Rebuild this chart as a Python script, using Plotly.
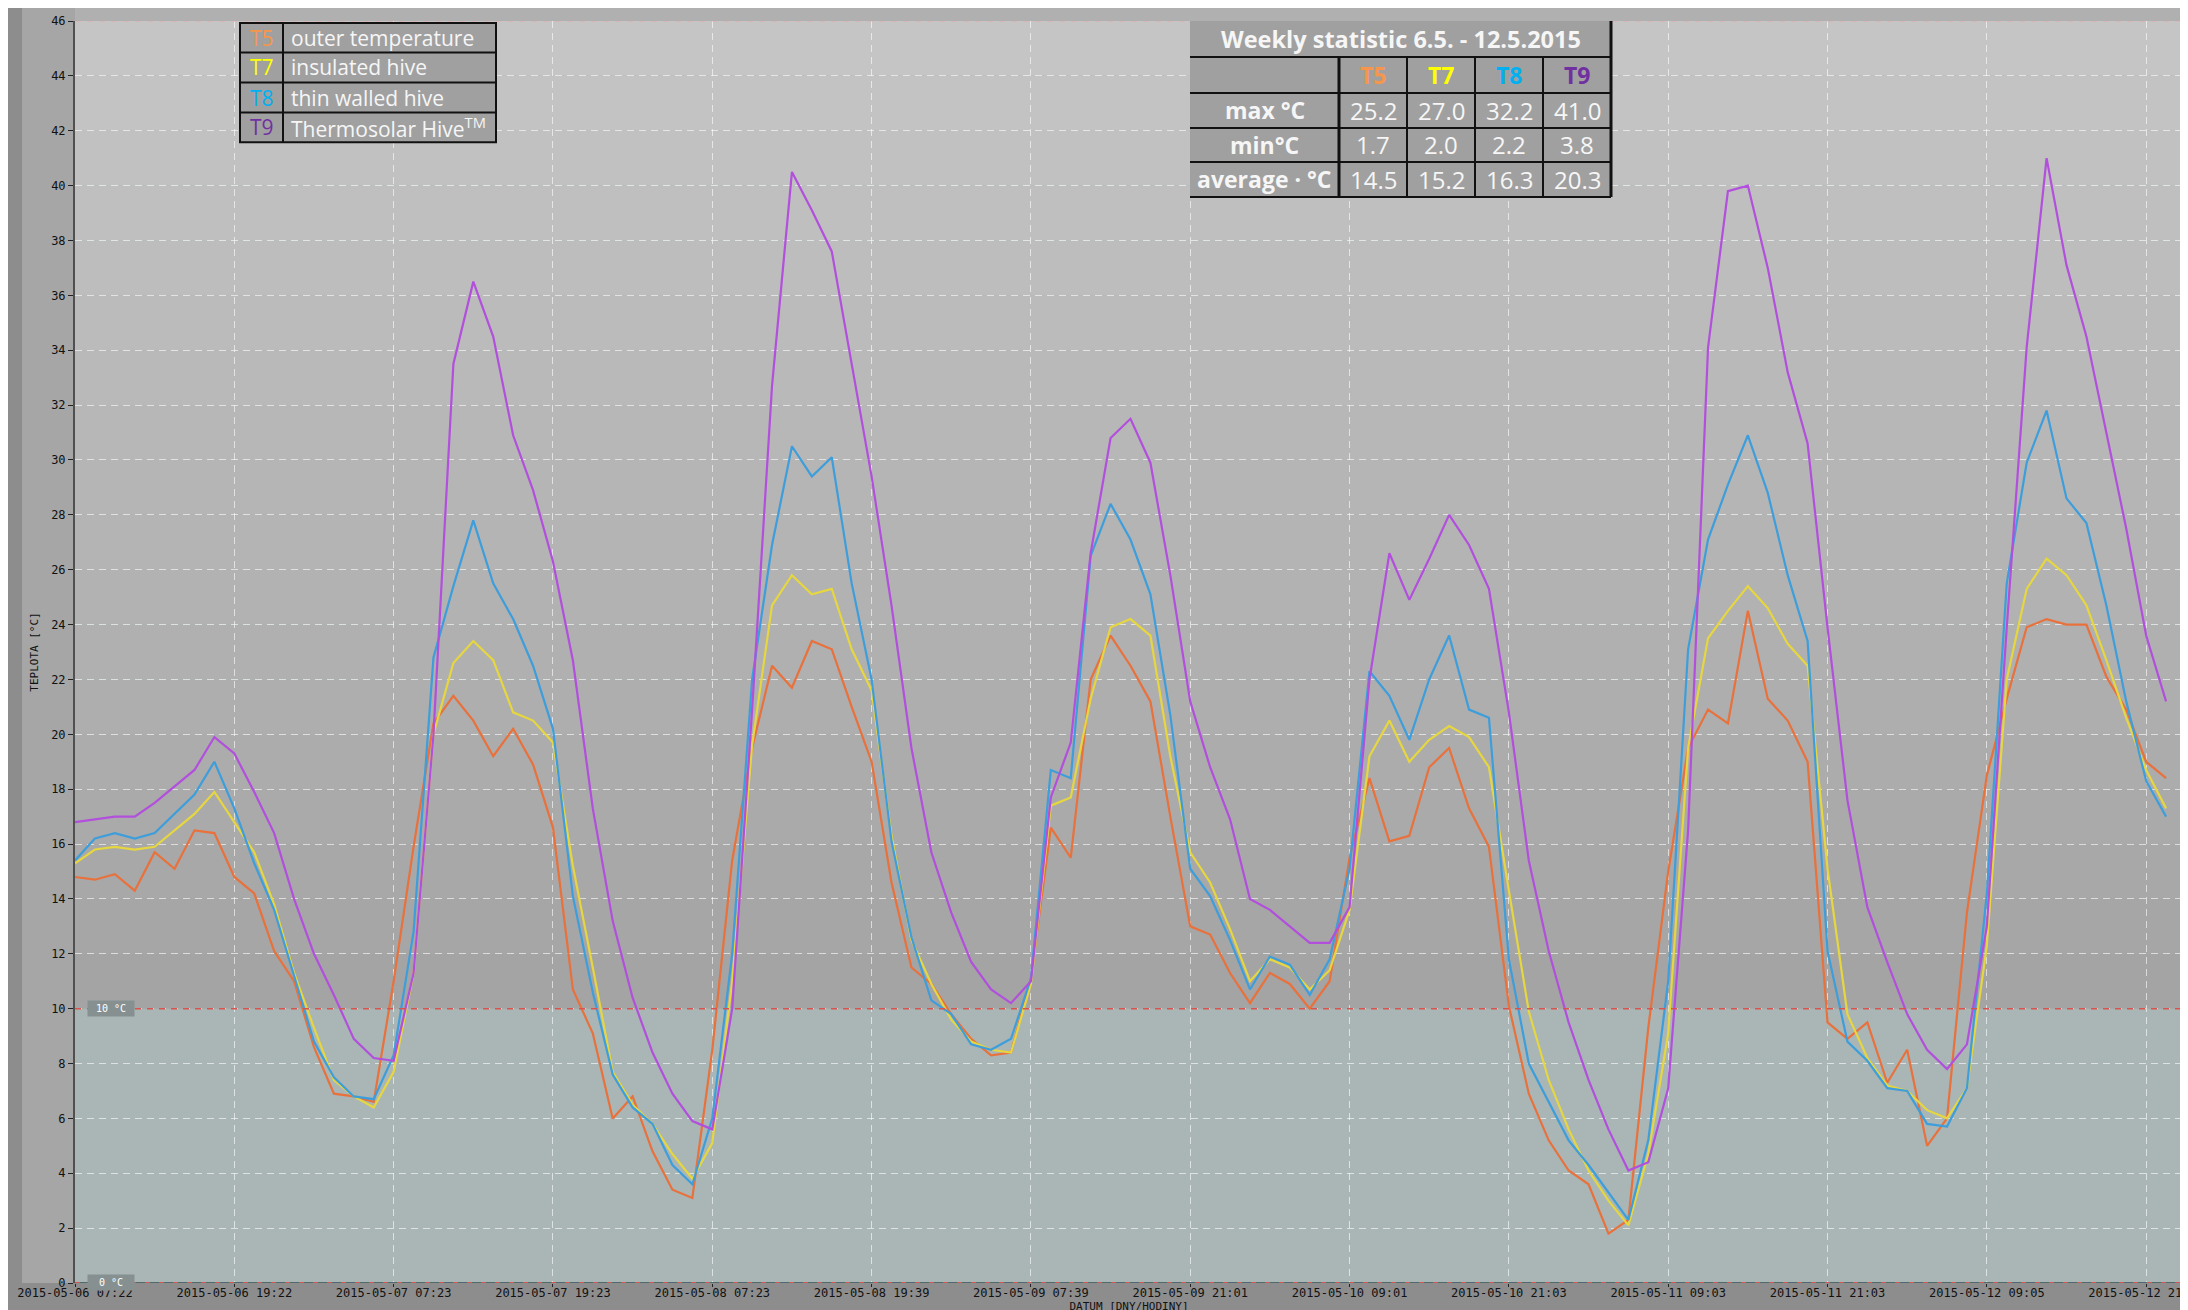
import plotly.graph_objects as go

# ── Data (hive logger, 6.5. - 12.5.2015), one value per sample ────────────────
T5 = [14.8, 14.7, 14.9, 14.3, 15.7, 15.1, 16.5, 16.4, 14.8, 14.2,
      12.1, 11.0, 8.6, 6.9, 6.8, 6.6, 11.0, 15.9, 20.4, 21.4,
      20.5, 19.2, 20.2, 18.9, 16.6, 10.7, 9.1, 6.0, 6.8, 4.8,
      3.4, 3.1, 8.5, 15.4, 19.5, 22.5, 21.7, 23.4, 23.1, 21.0,
      19.0, 14.6, 11.5, 10.9, 9.8, 8.9, 8.3, 8.4, 11.1, 16.6,
      15.5, 22.0, 23.6, 22.5, 21.2, 17.0, 13.0, 12.7, 11.3, 10.2,
      11.3, 10.9, 10.0, 11.0, 15.5, 18.4, 16.1, 16.3, 18.8, 19.5,
      17.3, 15.9, 10.1, 6.9, 5.2, 4.1, 3.6, 1.8, 2.3, 9.3,
      15.0, 19.5, 20.9, 20.4, 24.5, 21.3, 20.5, 19.0, 9.5, 8.9,
      9.5, 7.3, 8.5, 5.0, 6.0, 13.5, 18.5, 21.3, 23.9, 24.2,
      24.0, 24.0, 22.1, 20.9, 19.0, 18.4]
T7 = [15.3, 15.8, 15.9, 15.8, 15.9, 16.5, 17.1, 17.9, 16.8, 15.7,
      13.8, 11.3, 9.3, 7.4, 6.8, 6.4, 7.7, 11.3, 20.0, 22.6,
      23.4, 22.7, 20.8, 20.5, 19.7, 15.2, 11.5, 7.7, 6.5, 5.8,
      4.7, 3.8, 5.1, 11.0, 19.6, 24.7, 25.8, 25.1, 25.3, 23.1,
      21.6, 16.3, 12.5, 10.9, 9.6, 8.8, 8.5, 8.4, 10.9, 17.4,
      17.7, 21.3, 23.9, 24.2, 23.6, 19.2, 15.7, 14.6, 12.9, 11.0,
      11.8, 11.5, 10.7, 11.4, 13.6, 19.2, 20.5, 19.0, 19.8, 20.3,
      19.9, 18.8, 14.3, 9.9, 7.4, 5.6, 4.1, 3.0, 2.1, 4.7,
      9.1, 19.5, 23.5, 24.5, 25.4, 24.6, 23.3, 22.5, 15.1, 9.8,
      8.2, 7.2, 7.0, 6.3, 6.0, 7.1, 12.3, 22.0, 25.3, 26.4,
      25.8, 24.7, 22.7, 20.6, 18.7, 17.3]
T8 = [15.4, 16.2, 16.4, 16.2, 16.4, 17.1, 17.8, 19.0, 17.3, 15.3,
      13.6, 11.2, 8.8, 7.5, 6.8, 6.7, 8.3, 12.8, 22.8, 25.4,
      27.8, 25.5, 24.2, 22.5, 20.2, 14.1, 10.6, 7.6, 6.4, 5.8,
      4.3, 3.6, 6.0, 12.0, 22.0, 26.9, 30.5, 29.4, 30.1, 25.5,
      22.0, 16.1, 12.6, 10.3, 9.8, 8.7, 8.5, 8.9, 11.1, 18.7,
      18.4, 26.5, 28.4, 27.1, 25.1, 20.7, 15.1, 14.1, 12.5, 10.7,
      11.9, 11.6, 10.5, 11.8, 15.1, 22.3, 21.4, 19.8, 22.0, 23.6,
      20.9, 20.6, 11.8, 8.0, 6.6, 5.2, 4.3, 3.3, 2.3, 5.2,
      11.0, 23.1, 27.1, 29.1, 30.9, 28.8, 25.8, 23.4, 12.1, 8.8,
      8.1, 7.1, 7.0, 5.8, 5.7, 7.1, 14.2, 25.5, 29.9, 31.8,
      28.6, 27.7, 24.7, 21.2, 18.3, 17.0]
T9 = [16.8, 16.9, 17.0, 17.0, 17.5, 18.1, 18.7, 19.9, 19.3, 17.9,
      16.4, 14.0, 12.0, 10.5, 8.9, 8.2, 8.1, 11.3, 20.0, 33.5,
      36.5, 34.5, 30.9, 28.9, 26.3, 22.7, 17.3, 13.2, 10.4, 8.4,
      6.9, 5.9, 5.6, 10.0, 20.9, 32.7, 40.5, 39.1, 37.6, 33.5,
      29.4, 24.7, 19.5, 15.7, 13.5, 11.7, 10.7, 10.2, 11.0, 17.7,
      19.7, 26.6, 30.8, 31.5, 29.9, 25.8, 21.2, 18.8, 16.9, 14.0,
      13.6, 13.0, 12.4, 12.4, 13.7, 22.0, 26.6, 24.9, 26.4, 28.0,
      26.9, 25.3, 20.8, 15.4, 12.1, 9.5, 7.4, 5.6, 4.1, 4.4,
      7.1, 16.5, 34.1, 39.8, 40.0, 37.0, 33.2, 30.6, 23.9, 17.6,
      13.7, 11.7, 9.8, 8.5, 7.8, 8.7, 13.0, 23.9, 34.1, 41.0,
      37.1, 34.5, 31.0, 27.5, 23.6, 21.2]

TICK_EVERY = 8          # one labelled tick every 8 samples
TICK_TEXT = ["2015-05-06 07:22", "2015-05-06 19:22", "2015-05-07 07:23",
             "2015-05-07 19:23", "2015-05-08 07:23", "2015-05-08 19:39",
             "2015-05-09 07:39", "2015-05-09 21:01", "2015-05-10 09:01",
             "2015-05-10 21:03", "2015-05-11 09:03", "2015-05-11 21:03",
             "2015-05-12 09:05", "2015-05-12 21:05"]

CODES = ["T5", "T7", "T8", "T9"]
NAMES = ["outer temperature", "insulated hive", "thin walled hive",
         "Thermosolar Hive<sup>TM</sup>"]
STAT_MAX = [25.2, 27.0, 32.2, 41.0]
STAT_MIN = [1.7, 2.0, 2.2, 3.8]
STAT_AVG = [14.5, 15.2, 16.3, 20.3]
STAT_TITLE = "Weekly statistic 6.5. - 12.5.2015"

THRESHOLD = 10
Y_MAX = 46
X_MAX = 105.85

# ── Colours ───────────────────────────────────────────────────────────────────
LINE_COLORS = ["#e8713c", "#e6d640", "#3d9edb", "#b24fdc"]
CODE_COLORS = ["#f7964a", "#ffff00", "#00b0f0", "#7030a0"]
BOX_FILL = "#a0a0a0"
TEXT_WHITE = "#f6f6f6"
TICK_FONT = dict(family="DejaVu Sans Mono", size=12, color="#111111")

# plot area in page pixels, used to place the boxes drawn over the chart
W, H = 2188, 1310
PL, PR, PT, PB = 67, 2175, 13, 1275


def fx(px):
    return (px - PL) / (PR - PL)


def fy(py):
    return (PB - py) / (PB - PT)


def paper_rect(x0, x1, y0, y1, **kw):
    return dict(type="rect", xref="paper", yref="paper",
                x0=fx(x0), x1=fx(x1), y0=fy(y1), y1=fy(y0), **kw)


def paper_line(x0, x1, y0, y1, width=2):
    return dict(type="line", xref="paper", yref="paper",
                x0=fx(x0), x1=fx(x1), y0=fy(y0), y1=fy(y1),
                line=dict(color="#111", width=width))


def label(px, py, text, size, color=TEXT_WHITE, anchor="center"):
    return dict(xref="paper", yref="paper", x=fx(px), y=fy(py), text=text,
                showarrow=False, xanchor=anchor, yanchor="middle",
                font=dict(family="Open Sans", size=size, color=color))


x = list(range(len(T5)))
fig = go.Figure()
for code, vals, col in zip(CODES, [T5, T7, T8, T9], LINE_COLORS):
    fig.add_trace(go.Scatter(x=x, y=vals, name=code, mode="lines",
                             line=dict(color=col, width=2.2)))

shapes = []
# outer frame
shapes.append(paper_rect(14, PL, 0, PB, layer="below", fillcolor="#a6a6a6", line_width=0))
shapes.append(paper_rect(PL, PR, 0, PT, layer="below", fillcolor="#b0b0b0", line_width=0))
shapes.append(paper_rect(PR, W, 0, H, layer="below", fillcolor="#7c7c7c", line_width=0))
# cold zone under the threshold
shapes.append(dict(type="rect", xref="x domain", yref="y", layer="below",
                   x0=0, x1=1, y0=0, y1=THRESHOLD,
                   fillcolor="#a9b6b5", line_width=0))
# grey gradient above the threshold
lo, hi = 0xa3, 0xc6
nb = (Y_MAX - THRESHOLD) // 2
for k in range(nb):
    g = round(lo + (hi - lo) * (k + 0.5) / nb)
    shapes.append(dict(type="rect", xref="x domain", yref="y", layer="below",
                       x0=0, x1=1, y0=THRESHOLD + 2 * k, y1=THRESHOLD + 2 * k + 2,
                       fillcolor=f"rgb({g},{g},{g})", line_width=0))
# limit lines
shapes.append(dict(type="line", xref="x domain", yref="y",
                   x0=0, x1=1, y0=THRESHOLD, y1=THRESHOLD,
                   line=dict(color="#d9534f", width=1.5, dash="6px,6px")))
shapes.append(dict(type="line", xref="x domain", yref="y",
                   x0=0, x1=1, y0=Y_MAX, y1=Y_MAX,
                   line=dict(color="#e8a8a8", width=1, dash="6px,6px")))
shapes.append(dict(type="line", xref="x domain", yref="y",
                   x0=0, x1=1, y0=0, y1=0,
                   line=dict(color="#4f6a6a", width=2)))
shapes.append(dict(type="line", xref="x domain", yref="y",
                   x0=0, x1=1, y0=0, y1=0,
                   line=dict(color="#d9534f", width=2, dash="5px,9px")))

annotations = []
for val in (THRESHOLD, 0):
    annotations.append(dict(xref="paper", yref="y", x=fx(103), y=val,
                            xanchor="center", yanchor="middle",
                            yshift=1 if val == 0 else 0,
                            text=f"{val} °C", showarrow=False, width=44, height=13,
                            font=dict(family="DejaVu Sans Mono", size=10, color="white"),
                            bgcolor="#869090", borderpad=1))

# ── legend box ────────────────────────────────────────────────────────────────
LG_L, LG_S, LG_R = 232, 275, 488
LG_ROWS = [15, 44.5, 74.5, 104.5, 134.3]
shapes.append(paper_rect(LG_L, LG_R, LG_ROWS[0], LG_ROWS[-1],
                         fillcolor=BOX_FILL, line=dict(color="#111", width=2)))
for r in LG_ROWS[1:-1]:
    shapes.append(paper_line(LG_L, LG_R, r, r))
shapes.append(paper_line(LG_S, LG_S, LG_ROWS[0], LG_ROWS[-1]))
for i, (code, name, col) in enumerate(zip(CODES, NAMES, CODE_COLORS)):
    yc = (LG_ROWS[i] + LG_ROWS[i + 1]) / 2
    annotations.append(label((LG_L + LG_S) / 2, yc, code, 21, color=col))
    annotations.append(label(LG_S + 6, yc, name, 21, anchor="left"))

# ── weekly statistic table ────────────────────────────────────────────────────
TB_COLS = [1182, 1331, 1399, 1467, 1535, 1603]
TB_ROWS = [13, 49, 85, 120, 154, 189]
shapes.append(paper_rect(TB_COLS[0], TB_COLS[-1], TB_ROWS[0], TB_ROWS[-1],
                         fillcolor=BOX_FILL, line_width=0))
for r in TB_ROWS[1:]:
    shapes.append(paper_line(TB_COLS[0], TB_COLS[-1], r, r))
for j, c in enumerate(TB_COLS[1:]):
    top = TB_ROWS[0] if c == TB_COLS[-1] else TB_ROWS[1]
    w = 3 if j in (0, len(TB_COLS) - 2) else 2
    shapes.append(paper_line(c, c, top, TB_ROWS[-1], width=w))


def cell(col, row, text, color=TEXT_WHITE, bold=False, size=24):
    xc = (TB_COLS[col] + TB_COLS[col + 1]) / 2
    yc = (TB_ROWS[row] + TB_ROWS[row + 1]) / 2
    annotations.append(label(xc, yc, f"<b>{text}</b>" if bold else text, size, color=color))


annotations.append(label((TB_COLS[0] + TB_COLS[-1]) / 2, (TB_ROWS[0] + TB_ROWS[1]) / 2,
                         f"<b>{STAT_TITLE}</b>", 23.5))
for j, (code, col) in enumerate(zip(CODES, CODE_COLORS)):
    cell(j + 1, 1, code, color=col, bold=True, size=23)
for r, (name, vals) in enumerate([("max °C", STAT_MAX), ("min°C", STAT_MIN),
                                  ("average · °C", STAT_AVG)]):
    cell(0, r + 2, name, bold=True, size=23)
    for j, v in enumerate(vals):
        cell(j + 1, r + 2, f"{v:.1f}")

fig.update_layout(
    width=W, height=H, autosize=False,
    margin=dict(l=PL, r=W - PR, t=PT, b=H - PB, autoexpand=False),
    paper_bgcolor="#8d8d8d", plot_bgcolor="#a9b6b5",
    showlegend=False,
    shapes=shapes, annotations=annotations,
    xaxis=dict(
        range=[0, X_MAX],
        tickvals=[i * TICK_EVERY for i in range(len(TICK_TEXT))],
        ticktext=TICK_TEXT, tickfont=TICK_FONT, ticklabeloverflow="allow",
        ticks="outside", ticklen=3, tickcolor="#222", ticklabelstandoff=-4,
        showgrid=True, gridcolor="rgba(255,255,255,0.6)", griddash="7px,5px",
        zeroline=False, showline=False,
        title=dict(text="DATUM [DNY/HODINY]", standoff=0,
                   font=dict(family="DejaVu Sans Mono", size=11, color="#111")),
    ),
    yaxis=dict(
        range=[0, Y_MAX], dtick=2, tickfont=TICK_FONT,
        ticks="outside", ticklen=5, tickcolor="#222",
        showgrid=True, gridcolor="rgba(255,255,255,0.6)", griddash="7px,5px",
        zeroline=False, showline=True, linecolor="#505050", linewidth=2,
        title=dict(text="TEPLOTA [°C]", standoff=10,
                   font=dict(family="DejaVu Sans Mono", size=11, color="#111")),
    ),
)

fig.write_html("out.html")
